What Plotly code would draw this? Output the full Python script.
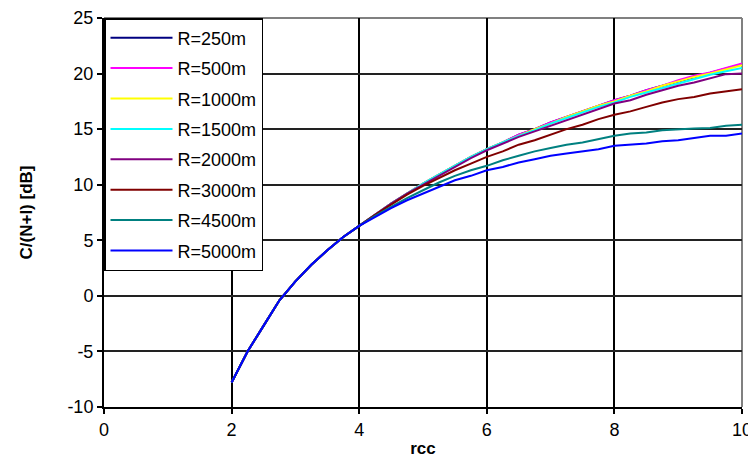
import plotly.graph_objects as go

# rcc sample points
rcc = [2.0, 2.25, 2.5, 2.75, 3.0, 3.25, 3.5, 3.75, 4.0, 4.25, 4.5, 4.75,
       5.0, 5.25, 5.5, 5.75, 6.0, 6.25, 6.5, 6.75, 7.0, 7.25, 7.5, 7.75,
       8.0, 8.25, 8.5, 8.75, 9.0, 9.25, 9.5, 9.75, 10.0]

# common low part (rcc 2..4)
low = [-7.8, -5.0, -2.7, -0.4, 1.3, 2.8, 4.1, 5.3, 6.3]

r250 = low + [7.3, 8.3, 9.2, 10.1, 10.9, 11.7, 12.5, 13.2, 13.8, 14.5, 15.0, 15.6,
              16.1, 16.6, 17.1, 17.6, 18.0, 18.5, 18.9, 19.3, 19.7, 20.05, 20.45, 20.85]
r500 = low + [7.3, 8.3, 9.2, 10.1, 10.9, 11.7, 12.5, 13.2, 13.8, 14.5, 15.0, 15.6,
              16.1, 16.6, 17.1, 17.6, 18.0, 18.5, 18.9, 19.4, 19.8, 20.1, 20.5, 20.9]
r1000 = low + [7.3, 8.3, 9.2, 10.1, 10.9, 11.7, 12.5, 13.2, 13.8, 14.4, 15.0, 15.5,
               16.1, 16.6, 17.1, 17.5, 18.0, 18.4, 18.9, 19.3, 19.7, 20.0, 20.4, 20.75]
r1500 = low + [7.3, 8.3, 9.2, 10.1, 10.9, 11.7, 12.5, 13.2, 13.8, 14.4, 14.9, 15.5,
               16.0, 16.5, 17.0, 17.4, 17.9, 18.3, 18.7, 19.1, 19.5, 19.9, 20.2, 20.5]
r2000 = low + [7.3, 8.3, 9.2, 10.0, 10.8, 11.6, 12.4, 13.1, 13.7, 14.3, 14.8, 15.3,
               15.8, 16.3, 16.8, 17.3, 17.6, 18.1, 18.5, 18.9, 19.2, 19.6, 19.95, 20.0]
r3000 = low + [7.3, 8.2, 9.1, 9.9, 10.6, 11.3, 11.9, 12.5, 13.0, 13.6, 14.0, 14.5,
               15.0, 15.4, 15.9, 16.3, 16.6, 17.0, 17.4, 17.7, 17.9, 18.2, 18.4, 18.6]
r4500 = low + [7.2, 8.0, 8.8, 9.5, 10.2, 10.8, 11.3, 11.7, 12.2, 12.6, 13.0, 13.3,
               13.6, 13.8, 14.1, 14.4, 14.6, 14.7, 14.9, 15.0, 15.05, 15.1, 15.3, 15.4]
r5000 = low + [7.1, 7.9, 8.6, 9.2, 9.8, 10.4, 10.8, 11.3, 11.6, 12.0, 12.3, 12.6,
               12.8, 13.0, 13.2, 13.5, 13.6, 13.7, 13.9, 14.0, 14.2, 14.4, 14.4, 14.6]

series_names = ["R=250m", "R=500m", "R=1000m", "R=1500m",
                "R=2000m", "R=3000m", "R=4500m", "R=5000m"]
series_vals = [r250, r500, r1000, r1500, r2000, r3000, r4500, r5000]
colors = ["#000080", "#FF00FF", "#FFFF00", "#00FFFF",
          "#800080", "#800000", "#008080", "#0000FF"]

x_ticks = [0, 2, 4, 6, 8, 10]
y_ticks = [-10, -5, 0, 5, 10, 15, 20, 25]
y_ticktext = ["-10", "-5", "0", "5", "10", "15", "20", "25"]

FONT = "Liberation Sans"

fig = go.Figure()

for i, (name, vals) in enumerate(zip(series_names, series_vals)):
    fig.add_trace(go.Scatter(
        x=rcc,
        y=vals,
        mode="lines",
        name=name,
        legendgroup=name,
        line=dict(color=colors[i], width=2),
    ))

# page has an 8px body margin, so the figure is sized 748x450
fig.update_layout(
    width=748,
    height=450,
    margin=dict(l=96, r=14, t=10, b=51),
    paper_bgcolor="white",
    plot_bgcolor="white",
    font=dict(family=FONT, size=17, color="black"),
    showlegend=True,
    legend=dict(
        x=0.0,
        y=1.0,
        xanchor="left",
        yanchor="top",
        bgcolor="white",
        bordercolor="black",
        borderwidth=1.5,
        font=dict(family=FONT, size=18, color="black"),
        itemwidth=62,
        tracegroupgap=4,
    ),
    xaxis=dict(
        range=[0, 10],
        tickvals=x_ticks,
        showgrid=True,
        gridcolor="black",
        gridwidth=2,
        showline=True,
        linecolor="black",
        linewidth=2,
        ticks="outside",
        ticklen=5,
        tickwidth=2,
        tickcolor="black",
        zeroline=False,
        automargin=False,
        tickfont=dict(size=18),
        title=dict(text="<b>rcc</b>", font=dict(size=17), standoff=4),
    ),
    yaxis=dict(
        range=[-10, 25],
        tickvals=y_ticks,
        ticktext=y_ticktext,
        showgrid=True,
        gridcolor="#222222",
        gridwidth=2,
        showline=True,
        linecolor="black",
        linewidth=2,
        ticks="outside",
        ticklen=5,
        tickwidth=2,
        tickcolor="black",
        zeroline=False,
        automargin=False,
        tickfont=dict(size=18),
        title=dict(text="<b>C/(N+I) [dB]</b>", font=dict(size=17), standoff=30),
    ),
    shapes=[
        dict(type="line", xref="paper", yref="paper", x0=0, x1=1, y0=1, y1=1,
             line=dict(color="#808080", width=2), layer="below"),
        dict(type="line", xref="paper", yref="paper", x0=1, x1=1, y0=0, y1=1,
             line=dict(color="#808080", width=2), layer="below"),
    ],
)

fig.write_html("out.html")
